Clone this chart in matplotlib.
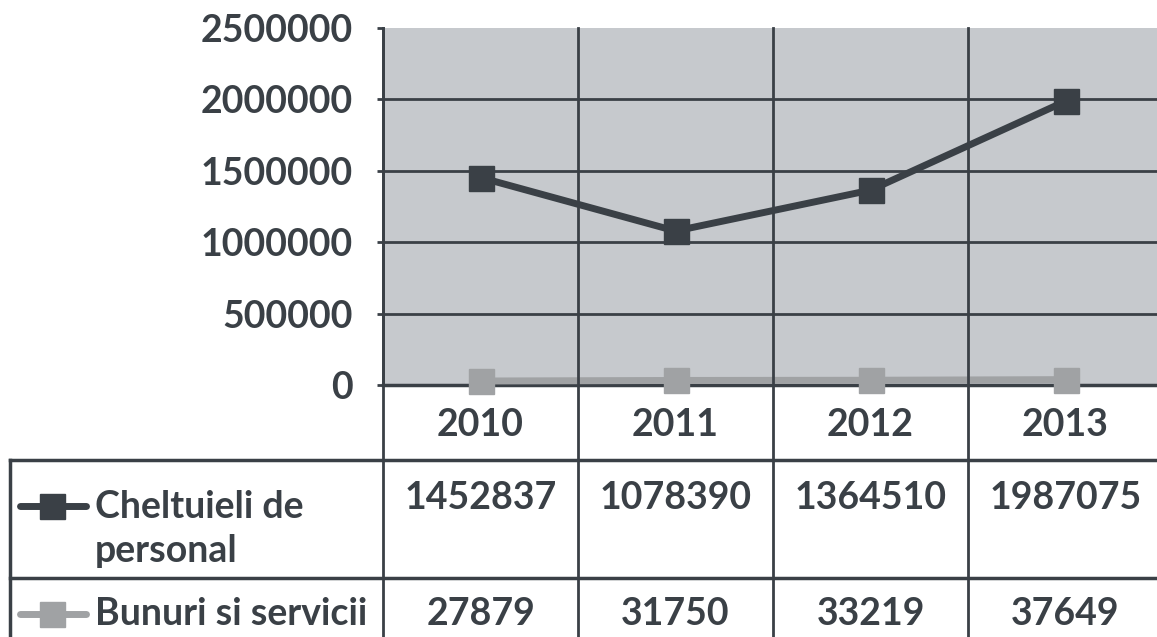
import matplotlib.pyplot as plt
import matplotlib.transforms as mtransforms

years = ['2010', '2011', '2012', '2013']
cheltuieli = [1452837, 1078390, 1364510, 1987075]
bunuri = [27879, 31750, 33219, 37649]
series_names = ['Cheltuieli de\npersonal', 'Bunuri si servicii']
yticks = [0, 500000, 1000000, 1500000, 2000000, 2500000]

W, H = 1157, 637
dark = '#3a4046'
light = '#a0a2a4'
bg = '#c6c9cd'
fs = 27

plt.rcParams['font.family'] = ['Lato', 'DejaVu Sans']
plt.rcParams['font.weight'] = 'bold'

fig = plt.figure(figsize=(W / 100, H / 100), dpi=100)


def fx(px):
    return px / W


def fy(py):
    return 1 - py / H


# plot area in pixels: left 383, top 28, bottom 385, right ~1163
ax = fig.add_axes([fx(383), fy(385), fx(1163 - 383), (385 - 28) / H])
ax.set_facecolor(bg)
ax.set_xlim(-0.5, 3.5)
ax.set_ylim(0, 2500000)

x = range(len(years))
ax.plot(x, bunuri, color=light, lw=5, marker='s', ms=18, mec=light, mfc=light,
        zorder=3, clip_on=False)
ax.plot(x, cheltuieli, color=dark, lw=5, marker='s', ms=18, mec=dark, mfc=dark,
        zorder=4, clip_on=False)

for v in yticks[1:-1]:
    ax.axhline(v, color=dark, lw=2, zorder=1)

ax.set_yticks(yticks)
ax.set_yticklabels([str(v) for v in yticks])
ax.tick_params(axis='y', length=4, width=2, color=dark, pad=18,
               labelsize=fs, labelcolor=dark)
ax.set_xticks([])
for s in ['top', 'right']:
    ax.spines[s].set_visible(False)
ax.spines['left'].set_color(dark)
ax.spines['left'].set_linewidth(2)
ax.spines['bottom'].set_color(dark)
ax.spines['bottom'].set_linewidth(2.5)

# vertical category borders run through chart and table
trans = mtransforms.blended_transform_factory(ax.transData, fig.transFigure)
for b in [-0.5 + i for i in range(len(years) + 1)]:
    fig.add_artist(plt.Line2D([b, b], [fy(28), 0], transform=trans,
                              color=dark, lw=2))

# table rows
fig.add_artist(plt.Line2D([fx(10), 1], [fy(460), fy(460)], color=dark, lw=2.5))
fig.add_artist(plt.Line2D([fx(10), 1], [fy(578), fy(578)], color=dark, lw=2.5))
fig.add_artist(plt.Line2D([fx(10), fx(10)], [fy(460), 0], color=dark, lw=2.5))

for i, yr in enumerate(years):
    fig.text(i, fy(425), yr, transform=trans, ha='center', va='center',
             fontsize=fs, color=dark)
    fig.text(i, fy(498), str(cheltuieli[i]), transform=trans, ha='center',
             va='center', fontsize=fs, color=dark)
    fig.text(i, fy(614), str(bunuri[i]), transform=trans, ha='center',
             va='center', fontsize=fs, color=dark)

# legend keys in table
for yy, c in [(fy(506), dark), (fy(614), light)]:
    fig.add_artist(plt.Line2D([fx(20), fx(52), fx(86)], [yy, yy, yy],
                              color=c, lw=5, marker='s', ms=18, markevery=[1],
                              solid_capstyle='round'))

fig.text(fx(95), fy(507), 'Cheltuieli de', ha='left', va='center',
         fontsize=fs, color=dark)
fig.text(fx(95), fy(551), 'personal', ha='left', va='center',
         fontsize=fs, color=dark)
fig.text(fx(95), fy(614), series_names[1], ha='left', va='center',
         fontsize=fs, color=dark)

fig.savefig('out.png', dpi=100, facecolor='white')
